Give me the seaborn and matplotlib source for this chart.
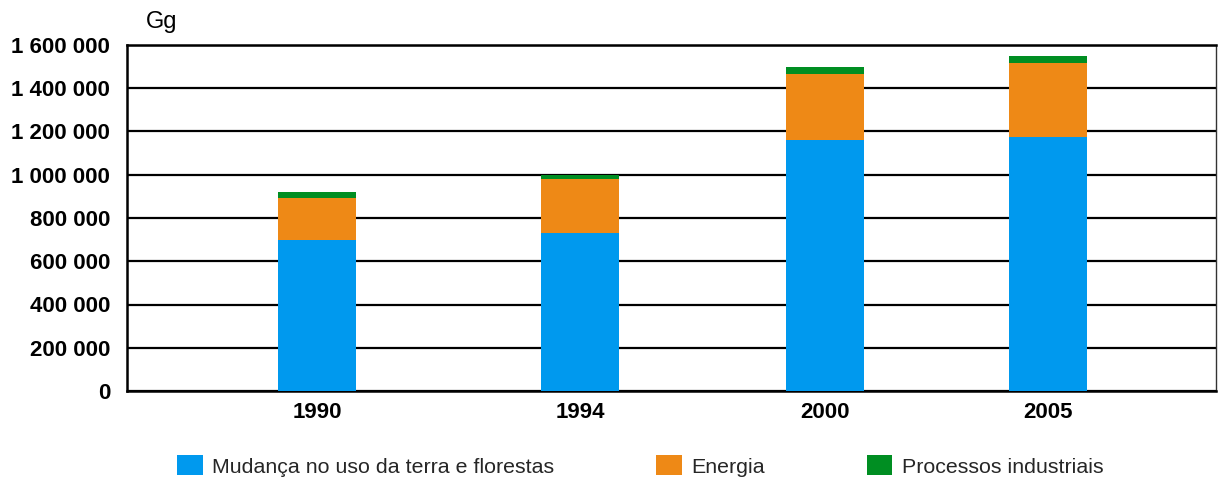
import matplotlib
matplotlib.use("Agg")
import matplotlib.pyplot as plt
from matplotlib.patches import Patch
from matplotlib.ticker import FuncFormatter
import pandas as pd
import seaborn as sns

# Emissions by sector (Gg)
years = ["1990", "1994", "2000", "2005"]
land_use = [698000, 732000, 1161000, 1176000]
energy = [193000, 248000, 303000, 342000]
industry = [28000, 20000, 35000, 31000]
series_names = ["Mudança no uso da terra e florestas", "Energia", "Processos industriais"]
y_ticks = [0, 200000, 400000, 600000, 800000, 1000000, 1200000, 1400000, 1600000]

# Horizontal placement of each year's bar
x_pos = [2.44, 5.81, 8.95, 11.81]

colors = ["#0099ee", "#ee8916", "#008e22"]

sns.set_theme(style="white")
plt.rcParams["font.family"] = ["Liberation Sans", "DejaVu Sans"]

df = pd.DataFrame({"year": years, "x": x_pos,
                   "land": land_use, "energy": energy, "industry": industry})
df["lvl1"] = df["land"]
df["lvl2"] = df["land"] + df["energy"]
df["lvl3"] = df["lvl2"] + df["industry"]

fig = plt.figure(figsize=(12.18, 4.79), dpi=100)
ax = fig.add_axes([127 / 1218, 1 - 391 / 479, (1216 - 127) / 1218, (391 - 45) / 479])

bar_w = 1 / (x_pos[3] - x_pos[2])
for col, c in zip(["lvl3", "lvl2", "lvl1"], colors[::-1]):
    sns.barplot(data=df, x="x", y=col, native_scale=True, color=c,
                width=bar_w, saturation=1, ax=ax, zorder=3,
                edgecolor="none", linewidth=0, errorbar=None)

ax.set_xlim(0, (1216 - 127) / 78)
ax.set_ylim(0, 1600000)
ax.set_xticks(x_pos)
ax.set_xticklabels(years, fontsize=16, fontweight="bold")
ax.set_yticks(y_ticks)
ax.yaxis.set_major_formatter(FuncFormatter(lambda v, p: f"{int(v):,}".replace(",", " ")))
for lab in ax.get_yticklabels():
    lab.set_fontweight("bold")
    lab.set_fontsize(16)
ax.tick_params(axis="y", length=0, pad=12, colors="black")
ax.tick_params(axis="x", length=0, pad=8, colors="black")
ax.set_xlabel("")
ax.set_ylabel("")

ax.set_axisbelow(True)
ax.yaxis.grid(True, color="black", linewidth=1.6)
ax.xaxis.grid(False)

for side in ["left", "bottom", "top"]:
    ax.spines[side].set_color("black")
    ax.spines[side].set_linewidth(1.8)
ax.spines["right"].set_color("#333333")
ax.spines["right"].set_linewidth(1.0)

fig.text(146 / 1218, 1 - 22 / 479, "Gg", fontsize=17, va="center", ha="left", color="black")

handles = [Patch(facecolor=c, edgecolor="none") for c in colors]
fig.legend(handles, series_names, loc="center left",
           bbox_to_anchor=(177 / 1218, 1 - 466 / 479), ncol=3, frameon=False,
           fontsize=15.4, handlelength=1.2, handleheight=1.05, handletextpad=0.45,
           columnspacing=4.75, borderpad=0, borderaxespad=0)

fig.savefig("out.png", dpi=100, facecolor="white")
